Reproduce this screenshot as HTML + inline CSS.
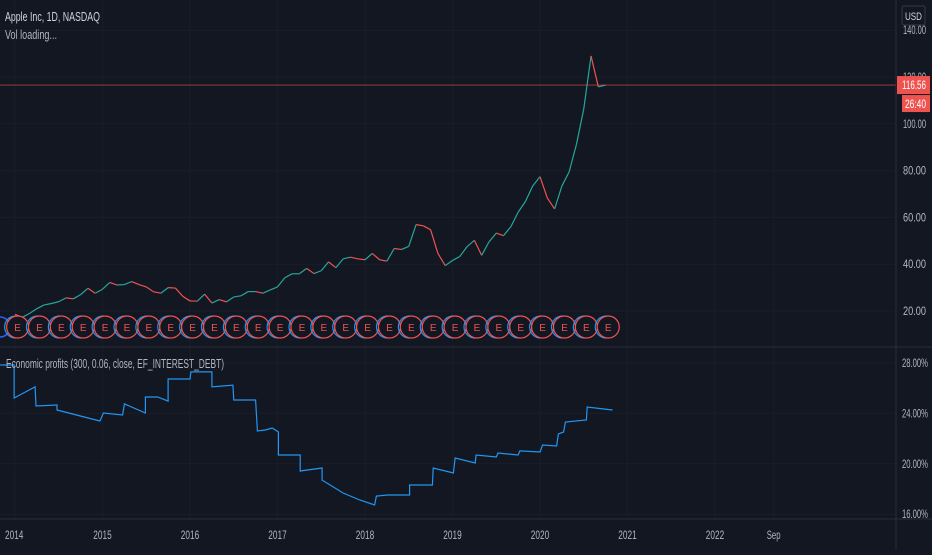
<!DOCTYPE html>
<html><head><meta charset="utf-8">
<style>
html,body{margin:0;padding:0;background:#131722;}
body{width:932px;height:550px;overflow:hidden;font-family:"Liberation Sans",sans-serif;}
svg text{font-family:"Liberation Sans",sans-serif;}
</style></head>
<body>
<svg id="chart" width="932" height="550" xmlns="http://www.w3.org/2000/svg">
<rect x="0" y="0" width="932" height="550" fill="#131722"/>
<g id="grid"></g>
<g id="price"></g>
<g id="earn"></g>
<g id="ep"></g>
<g id="axes"></g>
<text x="5" y="21" fill="#d1d4dc" font-size="13" textLength="95" lengthAdjust="spacingAndGlyphs">Apple Inc, 1D, NASDAQ</text>
<text x="5" y="39" fill="#b2b5be" font-size="13" textLength="52" lengthAdjust="spacingAndGlyphs">Vol loading...</text>
<text x="6" y="368" fill="#b2b5be" font-size="13" textLength="218" lengthAdjust="spacingAndGlyphs">Economic profits (300, 0.06, close, EF_INTEREST_DEBT)</text>
<rect x="902" y="6" width="23" height="19" rx="2" fill="#131722" stroke="#363a45"/>
<text x="905" y="20" fill="#d1d4dc" font-size="11" textLength="17" lengthAdjust="spacingAndGlyphs">USD</text>
</svg>
<script>
const priceTicks=[20,40,60,80,100,120,140];
const pctTicks=[16,20,24,28];
const yearLabels=["2014","2015","2016","2017","2018","2019","2020","2021","2022","Sep"];
const yearPos=[2014,2015,2016,2017,2018,2019,2020,2021,2022,2022.67];
const priceStart=2014;
const monthlyClose=[18.6,17.3,19,21,22.6,23.2,24,25.6,25.2,27,29.7,27.6,
29.3,32.2,31.1,31.3,32.6,31.3,30.3,28.2,27.6,30,29.8,26.3,
24.3,24.2,27.2,23.4,24.9,23.9,26,26.5,28.3,28.3,27.6,29,
30.3,34.2,35.9,35.9,38.2,36,37.2,41,38.5,42.3,43,42.3,
41.9,44.6,41.9,41.3,46.7,46.3,47.6,56.9,56.4,54.7,44.6,39.4,
41.6,43.3,47.5,50.2,43.8,49.5,53.3,52.2,56,62.2,66.8,73.4,
77.4,68.3,63.6,73.4,79.5,91.2,106.3,129,115.8,116.5];
const lastPrice=116.56;
const epDates=[2013.83,2013.99,2013.99,2014.23,2014.24,2014.48,2014.48,2014.97,2015.01,2015.23,2015.25,2015.49,2015.49,2015.63,2015.75,2015.75,2016.0,2016.01,2016.25,2016.25,2016.49,2016.50,2016.75,2016.77,2016.86,2016.94,2017.01,2017.01,2017.26,2017.26,2017.51,2017.51,2017.75,2017.94,2018.11,2018.13,2018.26,2018.51,2018.51,2018.77,2018.78,2019.01,2019.03,2019.26,2019.27,2019.50,2019.52,2019.75,2019.77,2020.0,2020.03,2020.19,2020.21,2020.27,2020.29,2020.53,2020.54,2020.83];
const epValues=[27.84,27.84,25.22,26.10,24.59,24.67,24.27,23.40,24.03,23.87,24.75,24.03,25.30,25.30,24.98,26.73,26.73,27.29,27.29,26.10,26.25,25.06,25.06,22.60,22.68,22.84,22.52,20.70,20.70,19.43,19.67,18.71,17.68,17.13,16.73,17.44,17.52,17.52,18.32,18.32,19.67,19.27,20.46,20.06,20.70,20.54,20.86,20.70,21.02,20.94,21.49,21.41,22.37,22.52,23.32,23.48,24.51,24.27];
const earningsFirst=2014.03, earningsCount=28;

const NS="http://www.w3.org/2000/svg";
function X(t){return 15+(t-2014)*87.5;}
function YP(p){return 311-(p-20)*2.34;}
function YE(v){return 363+(28-v)*12.6;}
function mk(tag,attrs,parent){const e=document.createElementNS(NS,tag);for(const k in attrs)e.setAttribute(k,attrs[k]);parent.appendChild(e);return e;}

const grid=document.getElementById('grid'),axes=document.getElementById('axes');
yearPos.forEach((t,i)=>{const l=mk('line',{x1:X(t),x2:X(t),y1:0,y2:519,stroke:'#181c27'},grid);


const w=yearLabels[i].length*4.6;
const tx=mk('text',{x:X(t)-w/2,y:539,fill:'#b2b5be','font-size':12,textLength:w,lengthAdjust:'spacingAndGlyphs'},axes);
if(i==0)tx.setAttribute('x',X(t)-10);
tx.textContent=yearLabels[i];

});
priceTicks.forEach(p=>{const l=mk('line',{x1:0,x2:896,y1:YP(p),y2:YP(p),stroke:'#1a1e29'},grid);


const t=mk('text',{x:903,y:YP(p)+4,fill:'#b2b5be','font-size':12,textLength:23,lengthAdjust:'spacingAndGlyphs'},axes);t.textContent=p.toFixed(2);

});
pctTicks.forEach(p=>{const l=mk('line',{x1:0,x2:896,y1:YE(p),y2:YE(p),stroke:'#1a1e29'},grid);


const t=mk('text',{x:902,y:YE(p)+4,fill:'#b2b5be','font-size':12,textLength:26,lengthAdjust:'spacingAndGlyphs'},axes);t.textContent=p.toFixed(2)+'%';

});
[[0,347,932,347],[0,519,932,519],[896,0,896,550]].forEach(a=>{const l=mk('line',{x1:a[0],y1:a[1],x2:a[2],y2:a[3],stroke:'#2a2e39'},axes);

});

const pg=document.getElementById('price');
for(let i=1;i<monthlyClose.length;i++){const t0=priceStart+(i-1)/12,t1=priceStart+i/12;
const up=monthlyClose[i]>=monthlyClose[i-1];
const l=mk('line',{x1:X(t0),y1:YP(monthlyClose[i-1]),x2:X(t1),y2:YP(monthlyClose[i]),stroke:up?'#26a69a':'#ef5350','stroke-width':1.2},pg);

}
const pl=mk('line',{x1:0,x2:896,y1:YP(lastPrice),y2:YP(lastPrice),stroke:'#ef5350','stroke-width':0.8,opacity:0.7},pg);


const pr=mk('rect',{x:897,y:YP(lastPrice)-9,width:33,height:18,fill:'#ef5350'},axes);


const pt=mk('text',{x:902,y:YP(lastPrice)+4,fill:'#fff','font-size':12,textLength:24,lengthAdjust:'spacingAndGlyphs'},axes);pt.textContent=lastPrice.toFixed(2);


const cr=mk('rect',{x:902,y:YP(lastPrice)+10,width:28,height:17,fill:'#ef5350'},axes);


const ct=mk('text',{x:905,y:YP(lastPrice)+23,fill:'#fff','font-size':12,textLength:21,lengthAdjust:'spacingAndGlyphs'},axes);ct.textContent='26:40';



const eg=document.getElementById('earn');
const d=mk('circle',{cx:0,cy:327,r:10,fill:'#131722',stroke:'#2962ff','stroke-width':1.5},eg);


for(let k=0;k<earningsCount;k++){const cx=X(earningsFirst+k*0.25);
const b=mk('circle',{cx:cx-2,cy:327,r:11,fill:'none',stroke:'#2196f3','stroke-width':1.2},eg);


const c=mk('circle',{cx:cx,cy:327,r:11,fill:'#131722',stroke:'#ef5350','stroke-width':1.2},eg);


const t=mk('text',{x:cx,y:331,fill:'#ef5350','font-size':10,'text-anchor':'middle'},eg);t.textContent='E';

}

const epg=document.getElementById('ep');
const pts=epDates.map((t,i)=>X(t).toFixed(1)+','+YE(epValues[i]).toFixed(1)).join(' ');
const epl=mk('polyline',{points:pts,fill:'none',stroke:'#2196f3','stroke-width':1.2},epg);


</script>
</body></html>
